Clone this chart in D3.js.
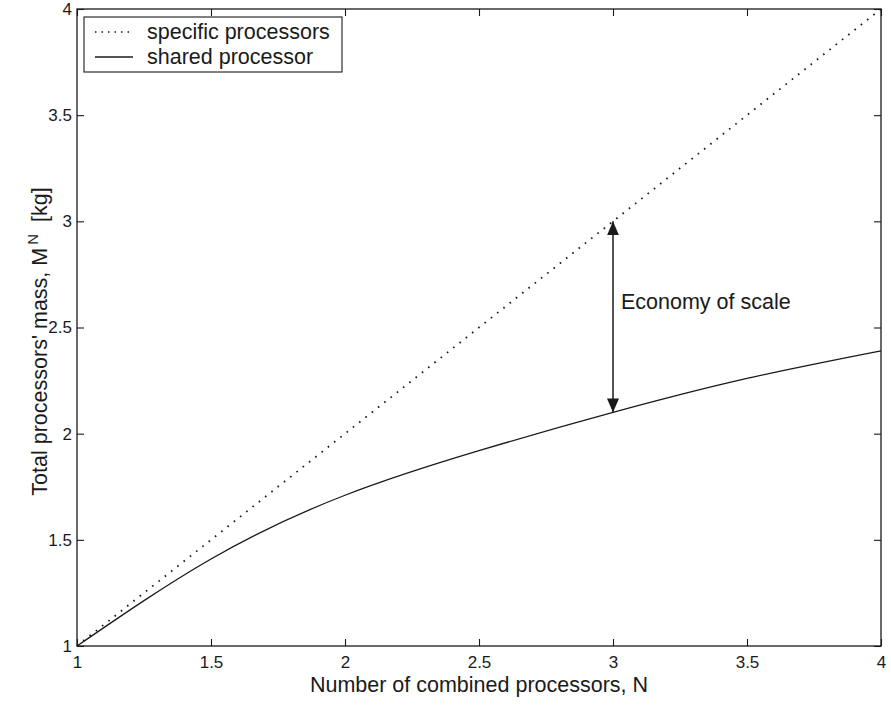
<!DOCTYPE html>
<html>
<head>
<meta charset="utf-8">
<script src="https://cdn.jsdelivr.net/npm/d3@7"></script>
<style>
  html, body { margin: 0; padding: 0; background: #fff; }
  svg { display: block; font-family: "Liberation Sans", Arial, Helvetica, sans-serif; }
</style>
</head>
<body>
<svg id="chart" width="891" height="709"></svg>
<script>
// Number of combined processors
const combinedN = [1, 1.5, 2, 2.5, 3, 3.5, 4];
// Mass when each function keeps its own processor (linear in N)
const specificMass = [1, 1.5, 2, 2.5, 3, 3.5, 4];
// Mass of one shared processor doing the same work
const sharedMass = [1, 1.41, 1.71, 1.92, 2.10, 2.26, 2.39];

const xTicks = [1, 1.5, 2, 2.5, 3, 3.5, 4];
const yTicks = [1, 1.5, 2, 2.5, 3, 3.5, 4];
const xTickLabels = ["1", "1.5", "2", "2.5", "3", "3.5", "4"];
const yTickLabels = ["1", "1.5", "2", "2.5", "3", "3.5", "4"];

const seriesNames = ["specific processors", "shared processor"];
const annotationText = "Economy of scale";
const arrowN = 3;            // where the gap is marked
const arrowLow = 2.10;       // shared mass at N = 3
const arrowHigh = 3;         // specific mass at N = 3

const margin = { left: 77, right: 10, top: 9, bottom: 63 };
const W = 891, H = 709;
const svg = d3.select("#chart");
const ink = "#1a1a1a";
const labelFont = 21.5;
const tickFont = 17;

const x = d3.scaleLinear().domain([1, 4]).range([margin.left, W - margin.right]);
const y = d3.scaleLinear().domain([1, 4]).range([H - margin.bottom, margin.top]);

const tickLen = 7;

// Axes: ticks point inward on all four sides
const axB = d3.axisBottom(x).tickValues(xTicks).tickFormat((d, i) => xTickLabels[i])
  .tickSizeInner(-tickLen).tickSizeOuter(0).tickPadding(10);
const axT = d3.axisTop(x).tickValues(xTicks).tickFormat("")
  .tickSizeInner(-tickLen).tickSizeOuter(0);
const axL = d3.axisLeft(y).tickValues(yTicks).tickFormat((d, i) => yTickLabels[i])
  .tickSizeInner(-tickLen).tickSizeOuter(0).tickPadding(5);
const axR = d3.axisRight(y).tickValues(yTicks).tickFormat("")
  .tickSizeInner(-tickLen).tickSizeOuter(0);

function styleAxis(g) {
  g.select(".domain").remove();
  g.selectAll("line").attr("stroke", ink).attr("stroke-width", 1.1);
  g.selectAll("text").attr("fill", ink).style("font-size", tickFont + "px")
    .style("font-family", "'Liberation Sans', Arial, sans-serif");
}

svg.append("g").attr("transform", `translate(0,${y(1)})`).call(axB).call(styleAxis);
svg.append("g").attr("transform", `translate(0,${y(4)})`).call(axT).call(styleAxis);
svg.append("g").attr("transform", `translate(${x(1)},0)`).call(axL).call(styleAxis);
svg.append("g").attr("transform", `translate(${x(4)},0)`).call(axR).call(styleAxis);

// Plot frame
svg.append("rect")
  .attr("x", x(1)).attr("y", y(4))
  .attr("width", x(4) - x(1)).attr("height", y(1) - y(4))
  .attr("fill", "none").attr("stroke", ink).attr("stroke-width", 1.3);

// Series
const specificLine = d3.line().x((d, i) => x(combinedN[i])).y(d => y(d));
const sharedLine = d3.line().x((d, i) => x(combinedN[i])).y(d => y(d)).curve(d3.curveNatural);

svg.append("path").datum(specificMass)
  .attr("d", specificLine)
  .attr("fill", "none").attr("stroke", ink)
  .attr("stroke-width", 1.8).attr("stroke-dasharray", "1.6,6.4");

svg.append("path").datum(sharedMass)
  .attr("d", sharedLine)
  .attr("fill", "none").attr("stroke", ink).attr("stroke-width", 1.3);

// Double-headed arrow marking the economy of scale
const defs = svg.append("defs");
function head(id, orient) {
  defs.append("marker").attr("id", id)
    .attr("viewBox", "0 0 14 12").attr("refX", 14).attr("refY", 6)
    .attr("markerWidth", 14).attr("markerHeight", 12)
    .attr("markerUnits", "userSpaceOnUse").attr("orient", orient)
    .append("path").attr("d", "M0,0 L14,6 L0,12 Z").attr("fill", ink);
}
head("tipEnd", "auto");
head("tipStart", "auto-start-reverse");

svg.append("line")
  .attr("x1", x(arrowN)).attr("x2", x(arrowN))
  .attr("y1", y(arrowLow)).attr("y2", y(arrowHigh))
  .attr("stroke", ink).attr("stroke-width", 1.5)
  .attr("marker-start", "url(#tipStart)").attr("marker-end", "url(#tipEnd)");

svg.append("text")
  .attr("x", x(arrowN) + 8).attr("y", y(2.585))
  .attr("fill", ink).style("font-size", labelFont + "px")
  .text(annotationText);

// Axis titles
svg.append("text")
  .attr("x", (x(1) + x(4)) / 2).attr("y", 692)
  .attr("text-anchor", "middle").attr("fill", ink).style("font-size", labelFont + "px")
  .text("Number of combined processors, N");

const yTitle = svg.append("text")
  .attr("transform", `translate(47,${(y(1) + y(4)) / 2 + 14}) rotate(-90)`)
  .attr("text-anchor", "middle").attr("fill", ink).style("font-size", labelFont + "px");
yTitle.append("tspan").text("Total processors' mass, M");
yTitle.append("tspan").attr("dx", 3).attr("dy", -9).style("font-size", "15px").text("N");
yTitle.append("tspan").attr("dy", 9).text("\u00a0\u00a0[kg]");

// Legend
const lg = svg.append("g");
lg.append("rect").attr("x", 84).attr("y", 17).attr("width", 258).attr("height", 55)
  .attr("fill", "#fff").attr("stroke", ink).attr("stroke-width", 1.1);
const legendStyles = [
  { dash: "1.5,5", width: 1.6 },
  { dash: null, width: 1.3 }
];
seriesNames.forEach((name, i) => {
  const cy = 32 + i * 25;
  lg.append("line").attr("x1", 95).attr("x2", 133).attr("y1", cy).attr("y2", cy)
    .attr("stroke", ink).attr("stroke-width", legendStyles[i].width)
    .attr("stroke-dasharray", legendStyles[i].dash);
  lg.append("text").attr("x", 147).attr("y", cy + 7)
    .attr("fill", ink).style("font-size", labelFont + "px").text(name);
});
</script>
</body>
</html>
